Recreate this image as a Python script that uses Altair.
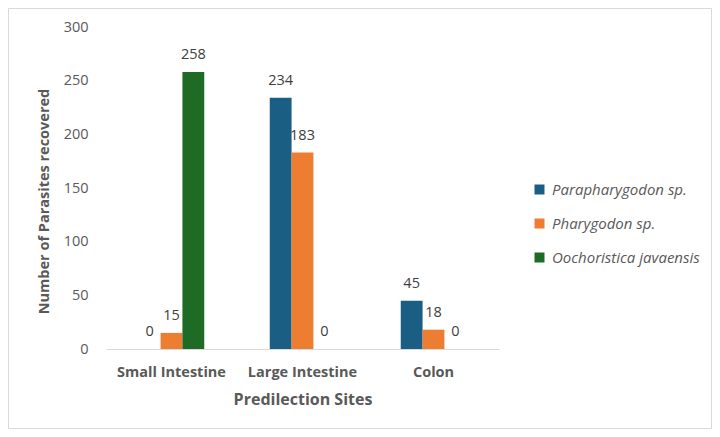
import altair as alt
import pandas as pd

sites = ["Small Intestine", "Large Intestine", "Colon"]
series = ["Parapharygodon sp.", "Pharygodon sp.", "Oochoristica javaensis"]
colors = ["#1B5E84", "#ED7D31", "#1D6B24"]
parapharygodon = [0, 234, 45]
pharygodon = [15, 183, 18]
oochoristica = [258, 0, 0]
y_ticks = [0, 50, 100, 150, 200, 250, 300]

rows = []
for s, vals in zip(series, [parapharygodon, pharygodon, oochoristica]):
    for site, v in zip(sites, vals):
        rows.append({"site": site, "series": s, "value": v})
df = pd.DataFrame(rows)

FONT = "Open Sans"
W, H = 393, 322
PL, PT, PR, PB = 98, 19, 213, 80

x_enc = alt.X("site:N", sort=sites, title="Predilection Sites",
              scale=alt.Scale(paddingInner=0.5, paddingOuter=0.25),
              axis=alt.Axis(labelAngle=0, ticks=False, domainColor="#d9d9d9",
                            labelFont=FONT, labelFontSize=14.5, labelFontWeight="bold",
                            labelColor="#595959", labelPadding=16,
                            titleFont=FONT, titleFontSize=16, titleFontWeight="bold",
                            titleColor="#595959", titlePadding=13))
y_enc = alt.Y("value:Q", title="Number of Parasites recovered",
              scale=alt.Scale(domain=[0, 300], nice=False),
              axis=alt.Axis(values=y_ticks, grid=False, ticks=False, domain=False,
                            labelFont=FONT, labelFontSize=14.5, labelColor="#595959",
                            labelPadding=18,
                            titleFont=FONT, titleFontSize=14.5, titleFontWeight="bold",
                            titleColor="#595959", titlePadding=12, titleY=174))
xo = alt.XOffset("series:N", sort=series)

base = alt.Chart(df)
bars = base.mark_bar().encode(
    x=x_enc, y=y_enc, xOffset=xo,
    color=alt.Color("series:N", sort=series,
                    scale=alt.Scale(domain=series, range=colors),
                    legend=alt.Legend(title=None, orient="none", legendX=426, legendY=155,
                                      symbolType="square", symbolSize=100,
                                      symbolStrokeWidth=0,
                                      labelFont=FONT, labelFontSize=15,
                                      labelFontStyle="italic", labelColor="#595959",
                                      rowPadding=18, labelOffset=5)),
)
labels = base.mark_text(baseline="bottom", dy=-10, font=FONT, fontSize=14.5,
                        color="#404040").encode(
    x=alt.X("site:N", sort=sites), y="value:Q", xOffset=xo, text="value:Q")

frame = alt.Chart(pd.DataFrame({"a": [0]})).mark_rect(
    fill=None, stroke="#d9d9d9", strokeWidth=1).encode(
    x=alt.value(-PL + 0.5), x2=alt.value(W + PR - 0.5),
    y=alt.value(-PT + 0.5), y2=alt.value(H + PB - 0.5))

chart = alt.layer(frame, bars, labels).properties(
    width=W, height=H,
    autosize=alt.AutoSizeParams(type="none"),
    padding={"left": PL, "top": PT, "right": PR, "bottom": PB},
).configure_view(stroke=None)

chart.save("out.html", embed_options={"renderer": "svg", "actions": False})
